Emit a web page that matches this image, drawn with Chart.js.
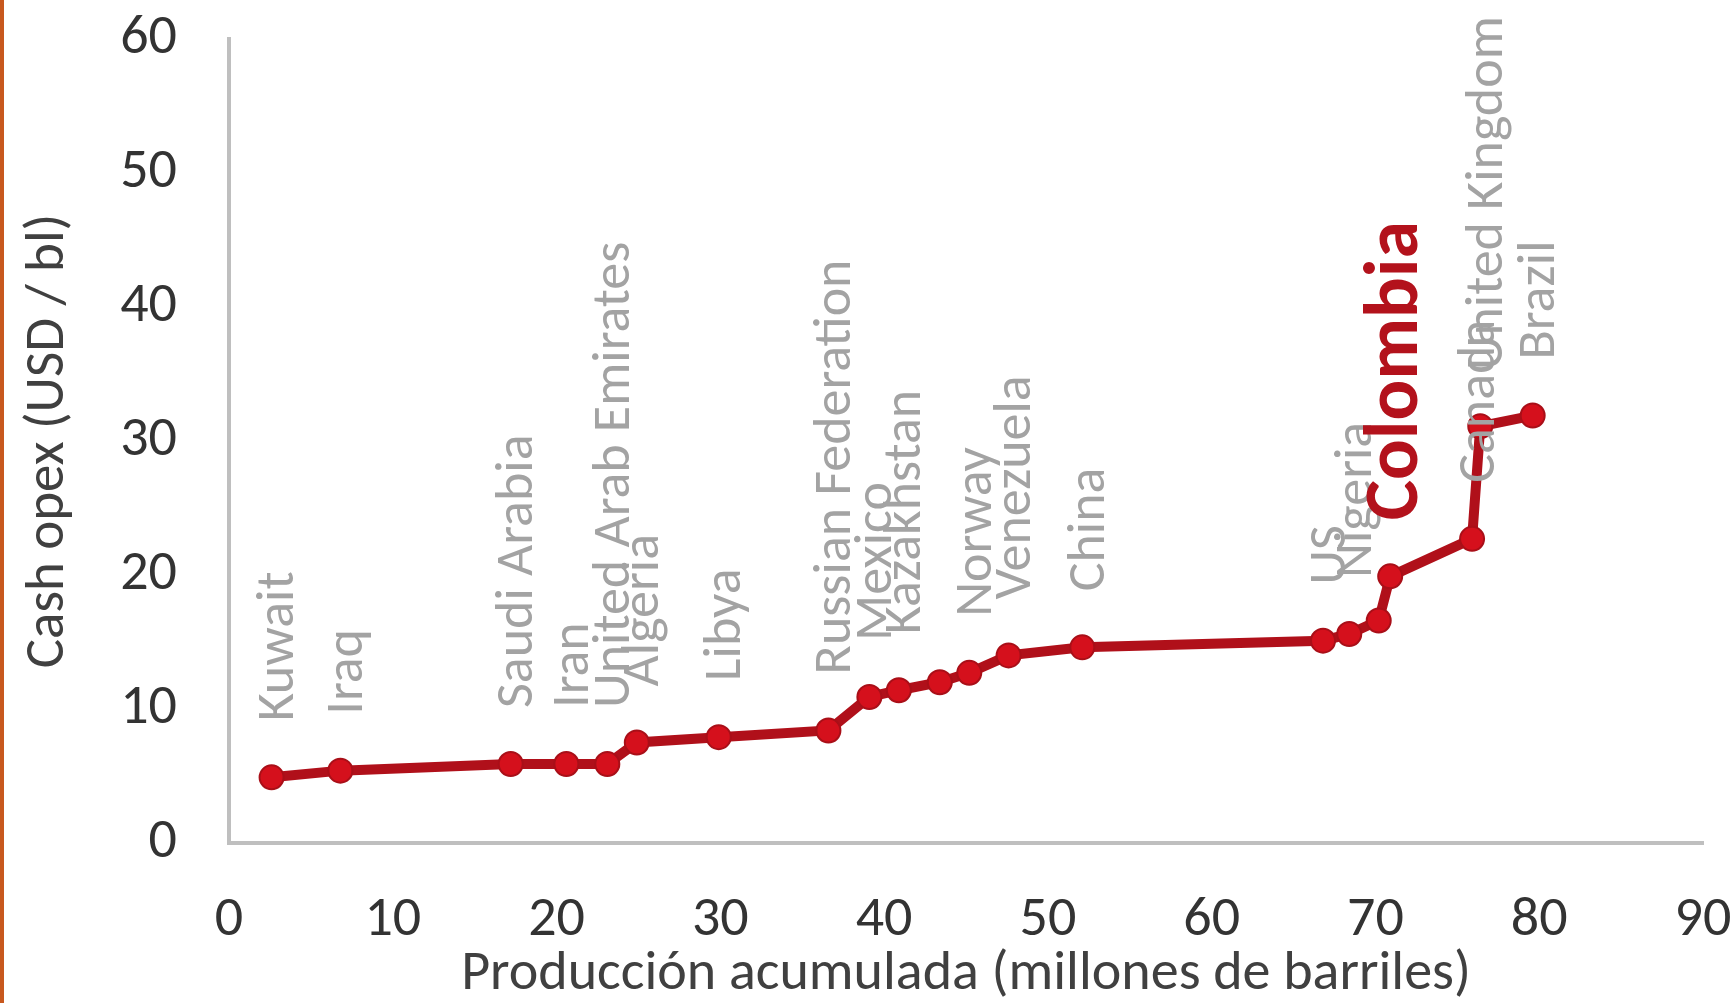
<!DOCTYPE html>
<html>
<head>
<meta charset="utf-8">
<script src="https://cdn.jsdelivr.net/npm/chart.js@4.4.1/dist/chart.umd.min.js"></script>
<style>
  html, body { margin: 0; padding: 0; background: #fff; }
  #wrap { position: relative; width: 1734px; height: 1003px; }
  #edge { position: absolute; left: 0; top: 0; width: 4px; height: 1003px; background: #c8581e; }
</style>
</head>
<body>
<div id="wrap">
  <canvas id="chart" width="1734" height="1003"></canvas>
  <div id="edge"></div>
</div>
<script>
// Países y valores (producción acumulada, cash opex)
const countries = ['Kuwait', 'Iraq', 'Saudi Arabia', 'Iran', 'United Arab Emirates', 'Algeria', 'Libya',
    'Russian Federation', 'Mexico', 'Kazakhstan', '', 'Norway', 'Venezuela', 'China',
    'US', 'Nigeria', '', 'Colombia', 'Canada', 'United Kingdom', 'Brazil']
const produccion = [2.6, 6.8, 17.2, 20.6, 23.1, 24.9, 29.9,
    36.6, 39.1, 40.9, 43.4, 45.2, 47.6, 52.1,
    66.8, 68.4, 70.2, 70.9, 75.9, 76.4, 79.6]
const cashOpex = [4.9, 5.4, 5.9, 5.9, 5.9, 7.5, 7.9,
    8.4, 10.9, 11.4, 12.0, 12.7, 14.0, 14.6,
    15.1, 15.6, 16.6, 19.9, 22.7, 31.1, 31.9]
const xTicks = [0, 10, 20, 30, 40, 50, 60, 70, 80, 90]
const yTicks = [0, 10, 20, 30, 40, 50, 60]
const highlight = 'Colombia'

const FONT = 'Carlito, Lato, "Open Sans", sans-serif'

// etiquetas de cada país, giradas sobre el punto
const countryLabels = {
    id: 'countryLabels',
    afterDatasetsDraw(chart) {
        const ctx = chart.ctx
        const meta = chart.getDatasetMeta(0)
        meta.data.forEach((pt, i) => {
            const name = countries[i]
            if (!name) return
            ctx.save()
            ctx.translate(pt.x + 8, pt.y - 56)
            ctx.rotate(-Math.PI / 2)
            ctx.textAlign = 'left'
            ctx.textBaseline = 'middle'
            if (name === highlight) {
                ctx.font = 'bold 76px ' + FONT
                ctx.fillStyle = '#b3121c'
            } else {
                ctx.font = '54px ' + FONT
                ctx.fillStyle = '#a3a3a3'
            }
            ctx.fillText(name, 0, 0)
            ctx.restore()
        })
    }
}

new Chart(document.getElementById('chart'), {
    type: 'line',
    data: {
        datasets: [{
            data: produccion.map((x, i) => ({ x, y: cashOpex[i] })),
            borderColor: '#b0101a',
            borderWidth: 10,
            tension: 0,
            fill: false,
            pointRadius: 12,
            pointBackgroundColor: '#d5101c',
            pointBorderColor: '#a90f18',
            pointBorderWidth: 2
        }]
    },
    options: {
        responsive: false,
        animation: false,
        layout: { padding: { top: 39, right: 31, left: 0, bottom: 0 } },
        plugins: { legend: { display: false }, tooltip: { enabled: false } },
        scales: {
            x: {
                type: 'linear',
                min: 0,
                max: 90,
                afterBuildTicks: axis => { axis.ticks = xTicks.map(v => ({ value: v })) },
                afterFit: axis => {
                    axis.height = 160
                    axis.paddingLeft = 0
                    axis.paddingRight = 0
                },
                grid: { display: false, drawTicks: false },
                border: { display: true, color: '#bfbfbf', width: 4 },
                ticks: { color: '#333', font: { family: FONT, size: 56 }, padding: 44, maxRotation: 0 },
                title: {
                    display: true,
                    text: 'Producción acumulada (millones de barriles)',
                    color: '#404040',
                    font: { family: FONT, size: 56, lineHeight: 1 },
                    padding: { top: 0, bottom: 0 }
                }
            },
            y: {
                min: 0,
                max: 60,
                afterBuildTicks: axis => { axis.ticks = yTicks.map(v => ({ value: v })) },
                afterFit: axis => {
                    axis.width = 229
                    axis.paddingTop = 0
                    axis.paddingBottom = 0
                },
                grid: { display: false, drawTicks: false },
                border: { display: true, color: '#bfbfbf', width: 4 },
                ticks: { color: '#333', font: { family: FONT, size: 56 }, padding: 52 },
                title: {
                    display: true,
                    text: 'Cash opex (USD / bl)',
                    color: '#404040',
                    font: { family: FONT, size: 55, lineHeight: 1 },
                    padding: { top: 22, bottom: 0 }
                }
            }
        }
    },
    plugins: [countryLabels]
})
</script>
</body>
</html>
